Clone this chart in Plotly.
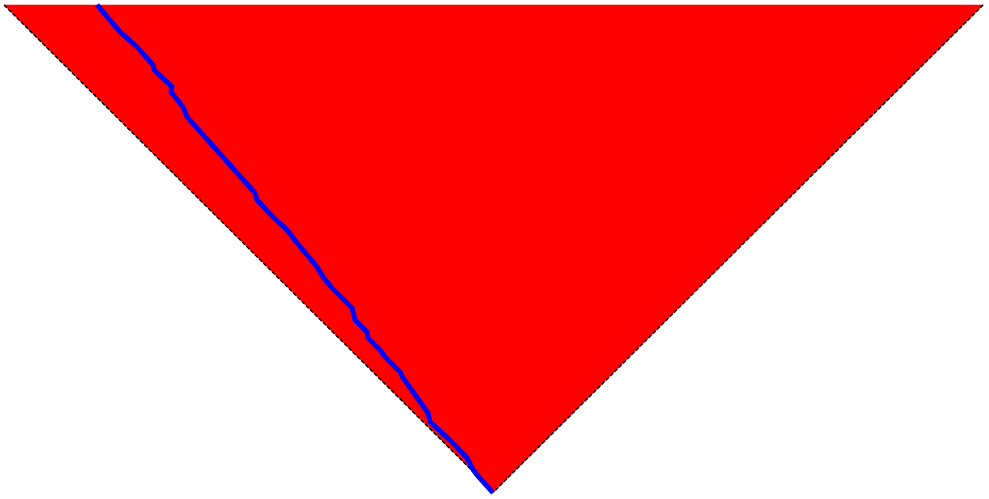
import plotly.graph_objects as go

# triangle outline (rotated matrix, positions 0..100, depth 0..50)
tri_x = [0, 100, 50, 0]
tri_y = [0, 0, 50, 0]

left_edge_x = [0, 50]
left_edge_y = [0, 50]
right_edge_x = [100, 50]
right_edge_y = [0, 50]

# blue path
path_x = [9.50, 11.54, 11.85, 13.59, 15.22, 15.32, 17.16, 17.06, 18.28, 18.69,
          20.33, 21.55, 23.39, 25.64, 25.84, 27.48, 28.91, 29.93, 31.97, 32.58,
          33.50, 35.55, 35.85, 37.08, 37.18, 38.41, 38.92, 40.45, 40.76, 41.78,
          42.19, 42.49, 43.31, 43.51, 44.84, 45.86, 47.29, 47.80, 48.31, 49.95]
path_y = [0.00, 2.26, 2.77, 4.31, 6.16, 6.67, 8.42, 8.93, 10.47, 11.50,
          13.35, 14.68, 16.94, 19.30, 20.02, 21.77, 23.10, 24.44, 26.90, 27.93,
          29.05, 31.11, 32.34, 33.57, 34.19, 35.42, 36.14, 37.68, 38.30, 39.73,
          40.35, 40.76, 41.89, 42.81, 43.94, 44.97, 46.51, 47.54, 48.25, 50.10]

fig = go.Figure()

fig.add_trace(go.Scatter(x=tri_x, y=tri_y, mode='lines', fill='toself',
                         fillcolor='#ff0000', line=dict(color='#ff0000', width=0.5),
                         hoverinfo='skip'))

for ex, ey in [(left_edge_x, left_edge_y), (right_edge_x, right_edge_y)]:
    fig.add_trace(go.Scatter(x=ex, y=ey, mode='lines',
                             line=dict(color='black', width=1.5, dash='4px,2px'),
                             hoverinfo='skip'))

fig.add_trace(go.Scatter(x=path_x, y=path_y, mode='lines',
                         line=dict(color='#0000ff', width=5)))

fig.update_layout(
    width=989, height=499,
    margin=dict(l=0, r=0, t=0, b=0),
    paper_bgcolor='white', plot_bgcolor='white',
    showlegend=False,
    xaxis=dict(range=[-0.41, 100.6], visible=False),
    yaxis=dict(range=[50.72, -0.51], visible=False),
)

# body hat alapból 8px margója, azt levesszük
fig.write_html("out.html", config={'displayModeBar': False},
               post_script="document.body.style.margin='0';")
